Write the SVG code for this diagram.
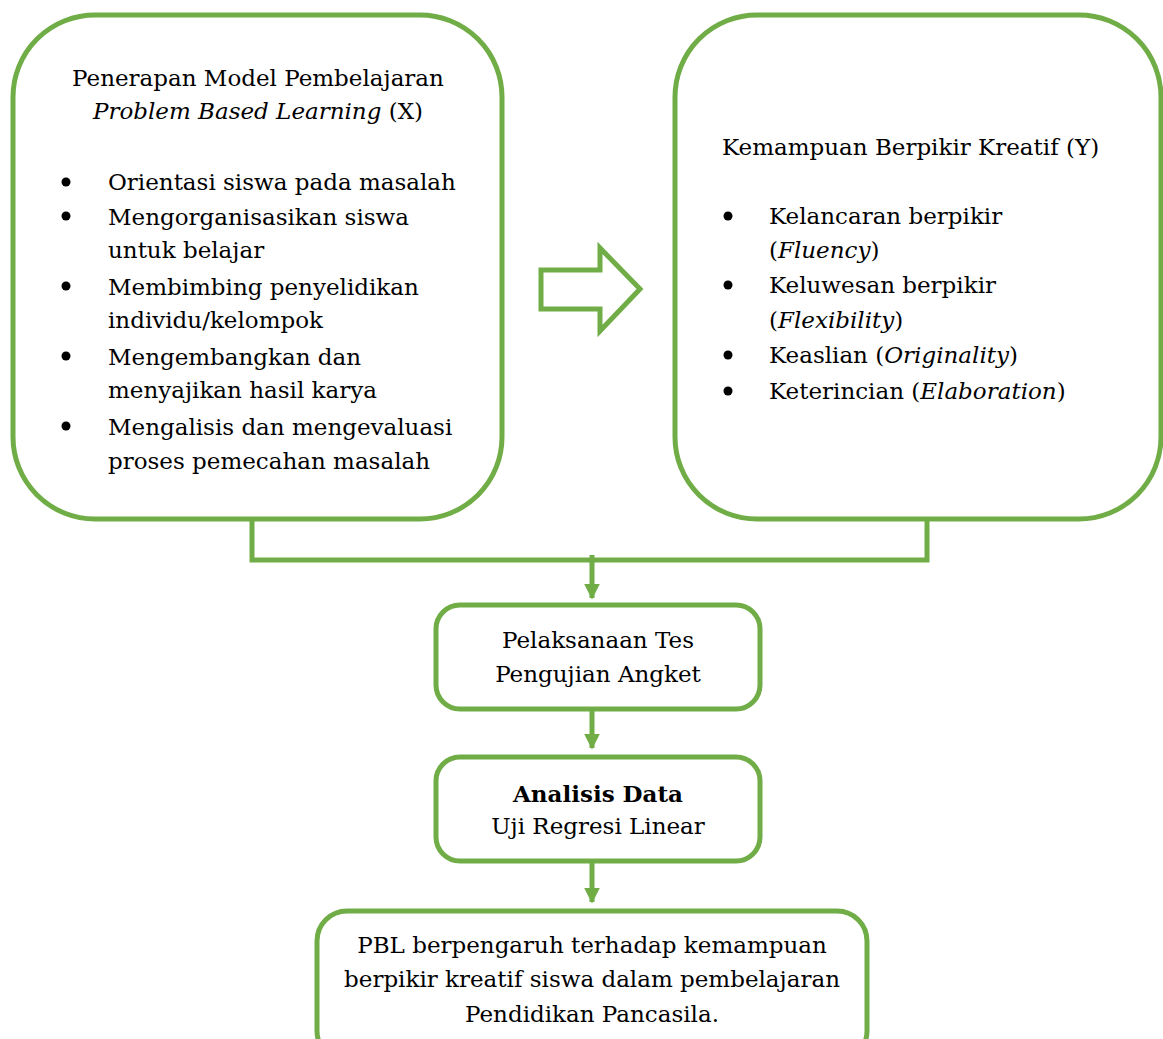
<svg xmlns="http://www.w3.org/2000/svg" width="1163" height="1039" viewBox="0 0 1163 1039">
<style>
.box{fill:#fff;stroke:#70AD47;stroke-width:5}
text{font-family:'DejaVu Serif', serif;font-size:23px;fill:#000}
.c{text-anchor:middle}
.i{font-style:italic}
.b{font-weight:bold}
.line{fill:none;stroke:#70AD47;stroke-width:5}
</style>
<defs>
<marker id="ah" viewBox="0 0 10 10" refX="9" refY="5" markerWidth="3.2" markerHeight="3.2" orient="auto" markerUnits="strokeWidth">
<path d="M0,0 L10,5 L0,10 Z" fill="#70AD47"/>
</marker>
</defs>
<rect width="1163" height="1039" fill="#fff"/>
<g id="connectors">
<path class="line" d="M252,520 V560 H927 V520"/>
<path class="line" d="M592,555 V598" marker-end="url(#ah)"/>
<path class="line" d="M592,710 V748" marker-end="url(#ah)"/>
<path class="line" d="M592,862 V902" marker-end="url(#ah)"/>
<path id="bigarrow" d="M541,270 H600 V248 L640,289 L600,331 V309 H541 Z" fill="none" stroke="#70AD47" stroke-width="5"/>
</g>
<g id="nodeX">
<rect class="box" x="13" y="15" width="489" height="504" rx="82"/>
<text class="c" x="258" y="86">Penerapan Model Pembelajaran</text>
<text class="c" x="258" y="119"><tspan class="i">Problem Based Learning</tspan> (X)</text>
<circle cx="66" cy="182" r="4.5"/><text x="108" y="190">Orientasi siswa pada masalah</text>
<circle cx="66" cy="216" r="4.5"/><text x="108" y="225">Mengorganisasikan siswa</text>
<text x="108" y="258">untuk belajar</text>
<circle cx="66" cy="286" r="4.5"/><text x="108" y="295">Membimbing penyelidikan</text>
<text x="108" y="328">individu/kelompok</text>
<circle cx="66" cy="356" r="4.5"/><text x="108" y="365">Mengembangkan dan</text>
<text x="108" y="398">menyajikan hasil karya</text>
<circle cx="66" cy="426" r="4.5"/><text x="108" y="435">Mengalisis dan mengevaluasi</text>
<text x="108" y="469">proses pemecahan masalah</text>
</g>
<g id="nodeY">
<rect class="box" x="675" y="15" width="486" height="504" rx="82"/>
<text x="722" y="155">Kemampuan Berpikir Kreatif (Y)</text>
<circle cx="728" cy="216" r="4.5"/><text x="769" y="224">Kelancaran berpikir</text>
<text x="769" y="258">(<tspan class="i">Fluency</tspan>)</text>
<circle cx="728" cy="285" r="4.5"/><text x="769" y="293">Keluwesan berpikir</text>
<text x="769" y="328">(<tspan class="i">Flexibility</tspan>)</text>
<circle cx="728" cy="355" r="4.5"/><text x="769" y="363">Keaslian (<tspan class="i">Originality</tspan>)</text>
<circle cx="728" cy="391" r="4.5"/><text x="769" y="399">Keterincian (<tspan class="i">Elaboration</tspan>)</text>
</g>
<g id="nodeTes">
<rect class="box" x="436" y="605" width="324" height="104" rx="24"/>
<text class="c" x="598" y="648">Pelaksanaan Tes</text>
<text class="c" x="598" y="682">Pengujian Angket</text>
</g>
<g id="nodeAnalisis">
<rect class="box" x="436" y="757" width="324" height="104" rx="24"/>
<text class="c b" x="598" y="802">Analisis Data</text>
<text class="c" x="598" y="834">Uji Regresi Linear</text>
</g>
<g id="nodeHasil">
<rect class="box" x="317" y="911" width="550" height="150" rx="30"/>
<text class="c" x="592" y="953">PBL berpengaruh terhadap kemampuan</text>
<text class="c" x="592" y="987">berpikir kreatif siswa dalam pembelajaran</text>
<text class="c" x="592" y="1022">Pendidikan Pancasila.</text>
</g>
</svg>
